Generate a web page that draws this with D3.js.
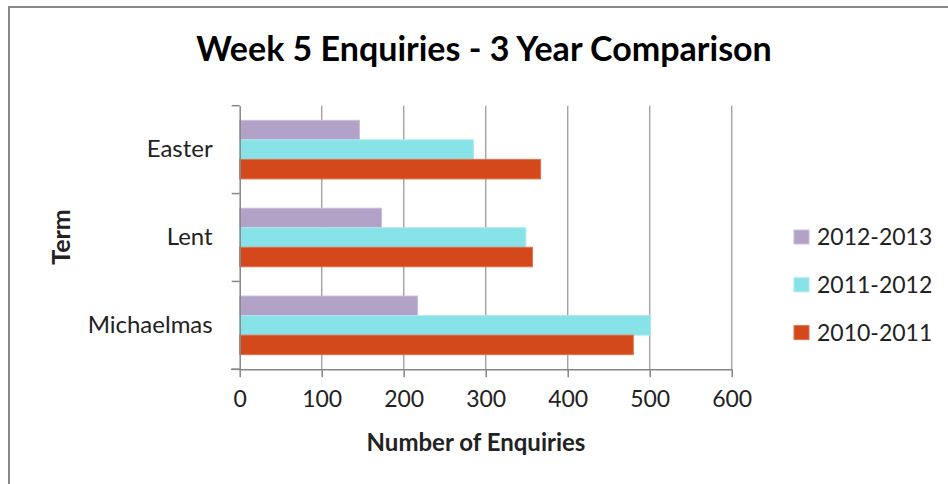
<!DOCTYPE html>
<html lang="en">
<head>
  <meta charset="UTF-8">
  <title>Week 5 Enquiries - 3 Year Comparison</title>
  <script src="https://d3js.org/d3.v7.min.js"></script>
  <style>
    body { margin: 0; background: #fff; }
    svg { display: block; font-family: Lato, "Open Sans", sans-serif; }
  </style>
</head>
<body>
  <svg width="948" height="484"></svg>
  <script>
    const terms = ["Easter", "Lent", "Michaelmas"];
    const years = ["2012-2013", "2011-2012", "2010-2011"];
    const enquiries1213 = [146, 173, 217];
    const enquiries1112 = [285, 349, 501];
    const enquiries1011 = [367, 357, 480];
    const xTicks = [0, 100, 200, 300, 400, 500, 600];
    const colours = ["#b3a2c7", "#88e3e8", "#d4491b"];
    const outlines = ["#c9bcdb", "#a6ecef", "#e0714c"];

    const seriesValues = [enquiries1213, enquiries1112, enquiries1011];
    const svg = d3.select("svg");

    // chart frame
    svg.append("rect")
      .attr("x", 9).attr("y", 7)
      .attr("width", 960).attr("height", 500)
      .attr("fill", "#fff")
      .attr("stroke", "#888").attr("stroke-width", 2);

    const x = d3.scaleLinear().domain([0, 600]).range([239.7, 731.7]);
    const y = d3.scaleBand().domain(terms).range([105.7, 369.3]);
    const yInner = d3.scaleBand().domain(years).range([0, y.bandwidth()]).paddingOuter(0.75);

    // gridlines
    svg.append("g")
      .selectAll("line")
      .data(xTicks.slice(1))
      .join("line")
      .attr("x1", d => x(d)).attr("x2", d => x(d))
      .attr("y1", 105.7).attr("y2", 369.3)
      .attr("stroke", "#a6a6a6").attr("stroke-width", 1.5);

    // bars
    const rows = terms.map((t, i) => years.map((yr, j) => ({ term: t, year: yr, j, value: seriesValues[j][i] })));
    svg.append("g")
      .selectAll("g")
      .data(rows)
      .join("g")
      .attr("transform", d => `translate(0,${y(d[0].term)})`)
      .selectAll("rect")
      .data(d => d)
      .join("rect")
      .attr("x", x(0))
      .attr("y", d => yInner(d.year))
      .attr("width", d => x(d.value) - x(0))
      .attr("height", yInner.bandwidth())
      .attr("fill", d => colours[d.j])
      .attr("stroke", d => outlines[d.j])
      .attr("stroke-width", 1);

    // x axis
    const xAxis = svg.append("g")
      .attr("transform", "translate(0,369.3)")
      .call(d3.axisBottom(x).tickValues(xTicks).tickSize(8).tickPadding(13).tickSizeOuter(0));
    xAxis.select(".domain").attr("stroke", "#868686").attr("stroke-width", 1.5);
    xAxis.selectAll(".tick line").attr("stroke", "#868686").attr("stroke-width", 1.5);
    xAxis.selectAll("text")
      .attr("font-size", 23).attr("fill", "#222")
      .attr("font-family", "Lato, sans-serif");
    xAxis.append("line")
      .attr("x1", 231).attr("x2", x(0))
      .attr("stroke", "#868686").attr("stroke-width", 1.5);

    // y axis
    const yAxis = svg.append("g")
      .attr("transform", `translate(${x(0)},0)`)
      .call(d3.axisLeft(y).tickSize(0).tickPadding(27));
    yAxis.select(".domain").attr("stroke", "#868686").attr("stroke-width", 1.5);
    yAxis.selectAll("text")
      .attr("font-size", 24).attr("fill", "#222")
      .attr("font-family", "Lato, sans-serif");
    yAxis.selectAll("line.bound")
      .data([105.7, ...terms.map(t => y(t) + y.bandwidth())])
      .join("line")
      .attr("class", "bound")
      .attr("x1", -8).attr("x2", 0)
      .attr("y1", d => d).attr("y2", d => d)
      .attr("stroke", "#868686").attr("stroke-width", 1.5);

    // title
    svg.append("text")
      .attr("x", 484).attr("y", 61)
      .attr("text-anchor", "middle")
      .attr("font-size", 34).attr("font-weight", "bold")
      .attr("fill", "#000")
      .text("Week 5 Enquiries - 3 Year Comparison");

    // axis titles
    svg.append("text")
      .attr("x", 476).attr("y", 451)
      .attr("text-anchor", "middle")
      .attr("font-size", 24).attr("font-weight", "bold")
      .attr("fill", "#222")
      .text("Number of Enquiries");

    svg.append("text")
      .attr("transform", "translate(70,237) rotate(-90)")
      .attr("text-anchor", "middle")
      .attr("font-size", 25).attr("font-weight", "bold")
      .attr("fill", "#222")
      .text("Term");

    // legend
    const legend = svg.append("g")
      .selectAll("g")
      .data(years)
      .join("g")
      .attr("transform", (d, i) => `translate(794,${237 + i * 47.8})`);
    legend.append("rect")
      .attr("x", 0).attr("y", -7)
      .attr("width", 15).attr("height", 14)
      .attr("fill", (d, i) => colours[i])
      .attr("stroke", (d, i) => outlines[i]);
    legend.append("text")
      .attr("x", 23).attr("y", 8)
      .attr("font-size", 23).attr("fill", "#222")
      .text(d => d);
  </script>
</body>
</html>
